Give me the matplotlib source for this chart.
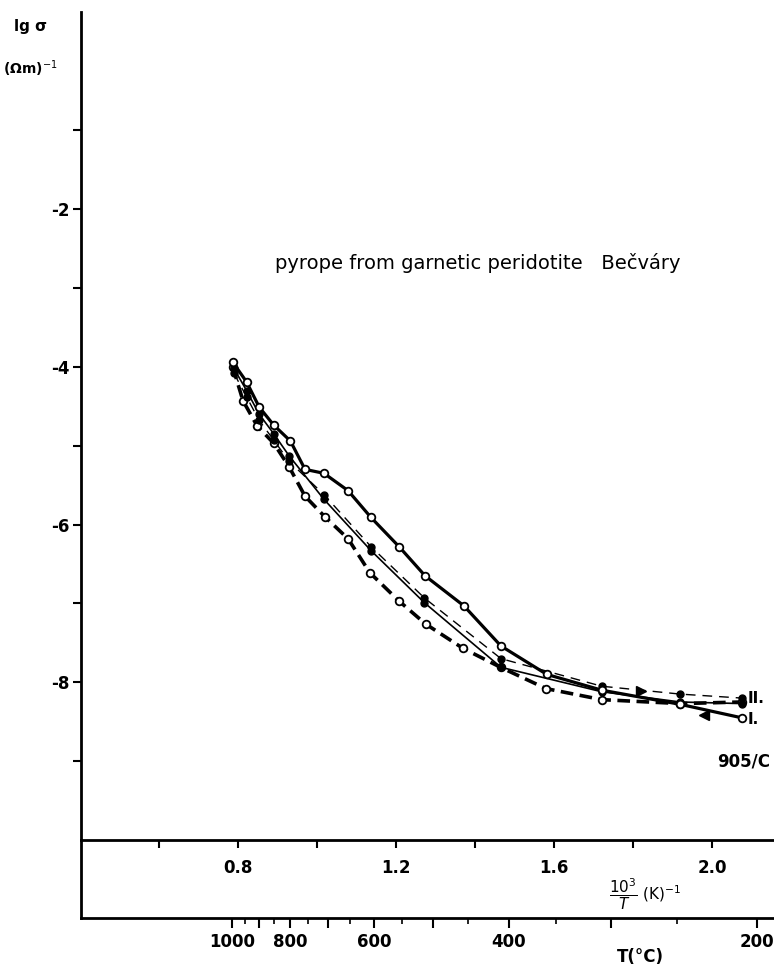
"""
Conductivity of pyrope (garnetic peridotite, Becvary) vs reciprocal temperature.
Two heating/cooling runs, lg sigma against 10^3/T with a T(degC) scale below.
"""

import matplotlib
matplotlib.use("Agg")
import matplotlib.pyplot as plt
from matplotlib.ticker import FixedLocator, NullFormatter


# ---------------------------------------------------------------------------
# Data: 10^3/T (1/K) and lg sigma (Ohm m)^-1
# ---------------------------------------------------------------------------
# run I, heating - thick solid, open circles
RUN1_UP_X = [0.787, 0.822, 0.854, 0.891, 0.933, 0.970, 1.018, 1.079, 1.137,
             1.208, 1.274, 1.372, 1.466, 1.582, 1.721, 1.920, 2.075]
RUN1_UP_Y = [-3.94, -4.19, -4.51, -4.74, -4.94, -5.30, -5.35, -5.57, -5.91,
             -6.28, -6.65, -7.03, -7.54, -7.90, -8.10, -8.28, -8.45]

# run I, cooling - thick dashed, open circles
RUN1_DOWN_X = [0.787, 0.813, 0.849, 0.891, 0.930, 0.970, 1.020, 1.079, 1.134,
               1.208, 1.275, 1.370, 1.465, 1.580, 1.721, 1.920, 2.075]
RUN1_DOWN_Y = [-4.00, -4.43, -4.75, -4.97, -5.27, -5.64, -5.90, -6.18, -6.61,
               -6.97, -7.26, -7.57, -7.81, -8.08, -8.22, -8.27, -8.25]

# run II, heating - thin solid, filled points
RUN2_UP_X = [0.790, 0.822, 0.854, 0.891, 0.930, 1.018, 1.137, 1.272, 1.466,
             1.721, 1.920, 2.075]
RUN2_UP_Y = [-4.02, -4.30, -4.60, -4.85, -5.13, -5.68, -6.33, -6.99, -7.81,
             -8.12, -8.25, -8.27]

# run II, cooling - thin dashed, filled points
RUN2_DOWN_X = [0.790, 0.822, 0.854, 0.891, 0.930, 1.018, 1.137, 1.272, 1.466,
               1.721, 1.920, 2.075]
RUN2_DOWN_Y = [-4.08, -4.38, -4.68, -4.93, -5.20, -5.62, -6.28, -6.93, -7.70,
               -8.05, -8.15, -8.20]

# direction arrows drawn on the low-temperature end
ARROW_RIGHT = (1.82, -8.11)
ARROW_LEFT = (1.98, -8.41)

# axis ticks
Y_MAJOR = [-2, -4, -6, -8]
Y_MINOR = [-1, -3, -5, -7, -9]
X_LABELED = [0.8, 1.2, 1.6, 2.0]
X_UNLABELED = [0.6, 1.0, 1.4, 1.8]
T_MAJOR = [1000, 900, 800, 700, 600, 500, 400, 300, 200]
T_LABELED = [1000, 800, 600, 400, 200]
T_MINOR = [950, 850, 750, 650, 550, 450, 350, 250]

XLIM = (0.403, 2.157)
YLIM = (-10.0, 0.5)
OUT_PATH = "out.png"

FONT = "DejaVu Sans"


def inv_t(t_c):
    """10^3/T in 1/K for a temperature in degC."""
    return 1000.0 / (t_c + 273.15)


def draw_curves(ax):
    open_mk = dict(marker="o", markersize=5.5, markerfacecolor="white",
                   markeredgecolor="black", markeredgewidth=1.3)
    fill_mk = dict(marker="o", markersize=5, markerfacecolor="black",
                   markeredgecolor="black")

    ax.plot(RUN1_UP_X, RUN1_UP_Y, color="black", lw=2.3, **open_mk, zorder=4)
    ax.plot(RUN1_DOWN_X, RUN1_DOWN_Y, color="black", lw=2.6,
            dashes=(3.5, 1.8), **open_mk, zorder=3)
    ax.plot(RUN2_UP_X, RUN2_UP_Y, color="black", lw=1.2, **fill_mk, zorder=3)
    ax.plot(RUN2_DOWN_X, RUN2_DOWN_Y, color="black", lw=1.0,
            dashes=(7, 5), **fill_mk, zorder=3)

    ax.plot(*ARROW_RIGHT, marker=">", markersize=7, color="black", zorder=5)
    ax.plot(*ARROW_LEFT, marker="<", markersize=7, color="black", zorder=5)

    ax.text(2.09, -8.20, "II.", fontsize=11, fontweight="bold", va="center",
            ha="left", family=FONT)
    ax.text(2.09, -8.47, "I.", fontsize=11, fontweight="bold", va="center",
            ha="left", family=FONT)
    ax.text(2.148, -9.0, "905/C", fontsize=12, fontweight="bold", va="center",
            ha="right", family=FONT)
    ax.text(0.894, -2.68, "pyrope from garnetic peridotite   Bečváry",
            fontsize=14, va="center", ha="left", family=FONT)


def style_main(ax):
    ax.set_xlim(*XLIM)
    ax.set_ylim(*YLIM)
    for side in ("top", "right"):
        ax.spines[side].set_visible(False)
    ax.spines["left"].set_linewidth(2.0)
    ax.spines["bottom"].set_linewidth(2.0)

    ax.yaxis.set_major_locator(FixedLocator(Y_MAJOR))
    ax.yaxis.set_minor_locator(FixedLocator(Y_MINOR))
    ax.set_yticklabels([str(v) for v in Y_MAJOR])
    ax.yaxis.set_minor_formatter(NullFormatter())
    ax.tick_params(axis="y", which="both", direction="out", length=6,
                   width=1.5, labelsize=12, pad=2)

    ax.xaxis.set_major_locator(FixedLocator(X_LABELED))
    ax.xaxis.set_minor_locator(FixedLocator(X_UNLABELED))
    ax.set_xticklabels([f"{v:.1f}" for v in X_LABELED])
    ax.xaxis.set_minor_formatter(NullFormatter())
    ax.tick_params(axis="x", which="both", direction="out", length=6,
                   width=1.5, labelsize=12, pad=8)
    for lab in ax.get_xticklabels() + ax.get_yticklabels():
        lab.set_fontweight("bold")
        lab.set_family(FONT)


def style_temp_axis(ax):
    ax.set_xlim(*XLIM)
    ax.set_ylim(0, 1)
    for side in ("top", "right"):
        ax.spines[side].set_visible(False)
    ax.spines["left"].set_linewidth(2.0)
    ax.spines["bottom"].set_linewidth(2.0)
    ax.set_yticks([])

    ax.xaxis.set_major_locator(FixedLocator([inv_t(t) for t in T_MAJOR]))
    ax.xaxis.set_minor_locator(FixedLocator([inv_t(t) for t in T_MINOR]))
    ax.set_xticklabels([str(t) if t in T_LABELED else "" for t in T_MAJOR])
    ax.xaxis.set_minor_formatter(NullFormatter())
    ax.tick_params(axis="x", which="major", direction="out", length=7,
                   width=1.5, labelsize=12, pad=4)
    ax.tick_params(axis="x", which="minor", direction="out", length=4,
                   width=1.2)
    for lab in ax.get_xticklabels():
        lab.set_fontweight("bold")
        lab.set_family(FONT)

    ax.text(1.83, 0.30, r"$\dfrac{10^3}{T}$ (K)$^{-1}$", fontsize=11,
            ha="center", va="center", family=FONT)


def main():
    W, H = 774, 968
    fig = plt.figure(figsize=(W / 100, H / 100), dpi=100)

    left = 81 / W
    width = 1 - left
    ax = fig.add_axes([left, 1 - 840 / H, width, (840 - 12) / H])
    ax2 = fig.add_axes([left, 1 - 918 / H, width, (918 - 840) / H])
    ax2.patch.set_alpha(0)

    draw_curves(ax)
    style_main(ax)
    style_temp_axis(ax2)

    fig.text(31 / W, 1 - 27 / H, "lg σ", fontsize=11, fontweight="bold",
             ha="center", va="center", family=FONT)
    fig.text(30 / W, 1 - 69 / H, "(Ωm)$^{-1}$", fontsize=10,
             fontweight="bold", ha="center", va="center", family=FONT)
    fig.text(640 / W, 1 - 957 / H, "T(°C)", fontsize=12, fontweight="bold",
             ha="center", va="center", family=FONT)

    fig.savefig(OUT_PATH, dpi=100)
    plt.close(fig)


if __name__ == "__main__":
    main()
